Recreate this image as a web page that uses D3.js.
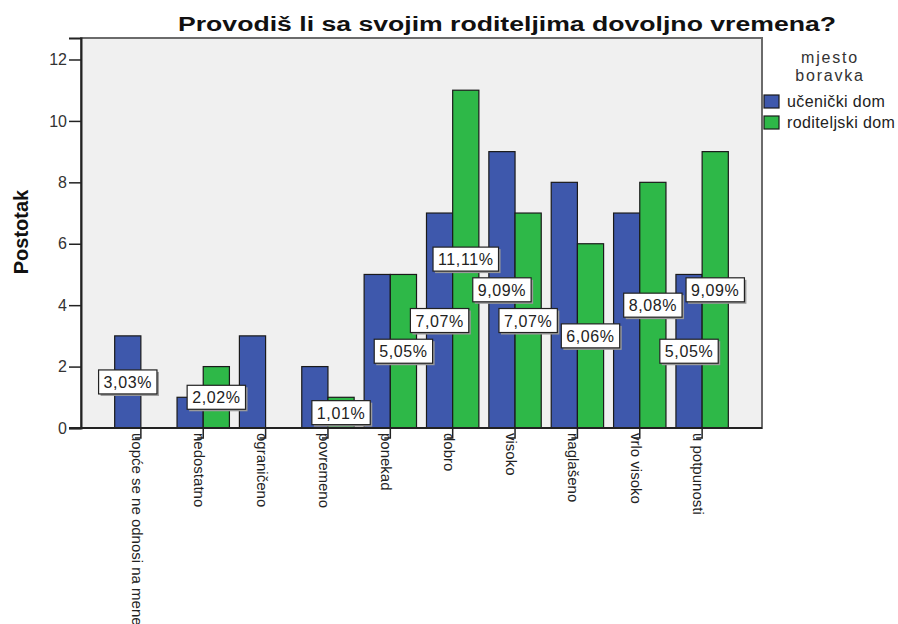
<!DOCTYPE html>
<html>
<head>
<meta charset="utf-8">
<script src="https://cdn.jsdelivr.net/npm/d3@7"></script>
<style>
  body { margin: 0; background: #fff; }
  text { font-family: Arial, "Liberation Sans", sans-serif; }
</style>
</head>
<body>
<svg id="chart" width="898" height="624"></svg>
<script>
(function () {

  // data
  var categories = ["uopće se ne odnosi na mene", "nedostatno", "ograničeno", "povremeno", "ponekad",
                    "dobro", "visoko", "naglašeno", "vrlo visoko", "u potpunosti"];
  var ucenickiDom = [3, 1, 3, 2, 5, 7, 9, 8, 7, 5];
  var roditeljskiDom = [0, 2, 0, 1, 5, 11, 7, 6, 8, 9];
  // labels that spss actually showed (the rest got hidden by overlap)
  var ucenickiLabels = ["3,03%", null, null, null, null, "7,07%", "9,09%", null, null, "5,05%"];
  var roditeljskiLabels = [null, "2,02%", null, "1,01%", "5,05%", "11,11%", "7,07%", "6,06%", "8,08%", "9,09%"];
  var yTicks = [0, 2, 4, 6, 8, 10, 12];
  var seriesNames = ["učenički dom", "roditeljski dom"];

  var blue = "#3e58ac";
  var green = "#2eb848";

  var svg = d3.select("#chart");

  var left = 81, right = 762, top = 38, bottom = 428;

  var x = d3.scaleBand()
    .domain(categories)
    .range([left, right])
    .paddingInner(0.16)
    .paddingOuter(0.54);

  var xs = d3.scaleBand()
    .domain([0, 1])
    .range([0, x.bandwidth()]);

  var y = d3.scaleLinear()
    .domain([0, 12.7])
    .range([bottom, top]);

  // plot background
  svg.append("rect")
    .attr("x", left)
    .attr("y", top)
    .attr("width", right - left)
    .attr("height", bottom - top)
    .attr("fill", "#f0f0f0")
    .attr("stroke", "#6b6b6b")
    .attr("stroke-width", 2);

  var rows = categories.map(function (c, i) {
    return { cat: c, vals: [ucenickiDom[i], roditeljskiDom[i]], labels: [ucenickiLabels[i], roditeljskiLabels[i]] };
  });

  var groups = svg.selectAll(".grp")
    .data(rows)
    .enter()
    .append("g")
      .attr("class", "grp")
      .attr("transform", function (d) { return "translate(" + x(d.cat) + ",0)"; });

  groups.selectAll("rect")
    .data(function (d) { return d.vals.map(function (v, k) { return { v: v, k: k }; }); })
    .enter()
    .filter(function (d) { return d.v > 0; })
    .append("rect")
      .attr("x", function (d) { return xs(d.k); })
      .attr("y", function (d) { return y(d.v); })
      .attr("width", xs.bandwidth())
      .attr("height", function (d) { return y(0) - y(d.v); })
      .attr("fill", function (d) { return d.k == 0 ? blue : green; })
      .attr("stroke", "#1a1a1a")
      .attr("stroke-width", 1.2);

  // left axis
  var yAxis = svg.append("g")
    .attr("transform", "translate(" + left + ",0)")
    .call(d3.axisLeft(y).tickValues(yTicks).tickSize(12).tickPadding(2));
  yAxis.select(".domain").attr("stroke", "#222").attr("stroke-width", 2);
  yAxis.selectAll(".tick line").attr("stroke", "#222").attr("stroke-width", 1.5);
  yAxis.selectAll(".tick text")
    .attr("font-size", "16px")
    .attr("fill", "#333")
    .style("font-family", "Arial, 'Liberation Sans', sans-serif");

  // bottom axis line
  svg.append("line")
    .attr("x1", left - 12)
    .attr("x2", right)
    .attr("y1", bottom)
    .attr("y2", bottom)
    .attr("stroke", "#222")
    .attr("stroke-width", 2);

  var xTicks = svg.selectAll(".xtick")
    .data(categories)
    .enter()
    .append("g")
      .attr("class", "xtick")
      .attr("transform", function (d) { return "translate(" + (x(d) + x.bandwidth() / 2) + "," + bottom + ")"; });

  xTicks.append("path")
    .attr("d", "M0,0V10H-6")
    .attr("fill", "none")
    .attr("stroke", "#222")
    .attr("stroke-width", 1.5);

  xTicks.append("text")
    .attr("transform", "translate(0,5) rotate(90)")
    .attr("x", 0)
    .attr("y", 9)
    .attr("font-size", "15px")
    .attr("fill", "#222")
    .text(function (d) { return d; });

  // value labels in boxes, sitting at half the bar height
  var labelData = [];
  rows.forEach(function (r) {
    r.labels.forEach(function (t, k) {
      if (t) labelData.push({ cat: r.cat, k: k, v: r.vals[k], text: t });
    });
  });

  var labels = svg.selectAll(".lbl")
    .data(labelData)
    .enter()
    .append("g")
      .attr("class", "lbl")
      .attr("transform", function (d) {
        return "translate(" + (x(d.cat) + xs(d.k) + xs.bandwidth() / 2) + "," + y(d.v / 2) + ")";
      });

  labels.each(function (d) {
    var g = d3.select(this);
    var shadow = g.append("rect");
    var box = g.append("rect");
    var t = g.append("text")
      .attr("text-anchor", "middle")
      .attr("y", 6)
      .attr("font-size", "16px")
      .attr("letter-spacing", "0.6px")
      .attr("fill", "#222")
      .text(d.text);
    var w = t.node().getComputedTextLength() + 10;
    shadow
      .attr("x", -w / 2 + 2)
      .attr("y", -12 + 2)
      .attr("width", w)
      .attr("height", 24)
      .attr("fill", "#9a9a9a");
    box
      .attr("x", -w / 2)
      .attr("y", -12)
      .attr("width", w)
      .attr("height", 24)
      .attr("fill", "#fff")
      .attr("stroke", "#222")
      .attr("stroke-width", 1.2);
  });

  // title
  svg.append("text")
    .attr("x", 178)
    .attr("y", 31)
    .attr("font-size", "20px")
    .attr("font-weight", "bold")
    .attr("fill", "#111")
    .attr("textLength", 658)
    .attr("lengthAdjust", "spacingAndGlyphs")
    .text("Provodiš li sa svojim roditeljima dovoljno vremena?");

  // y title
  svg.append("text")
    .attr("transform", "translate(28,232) rotate(-90)")
    .attr("text-anchor", "middle")
    .attr("font-size", "20px")
    .attr("font-weight", "bold")
    .attr("fill", "#111")
    .text("Postotak");

  // legend
  var legend = svg.append("g");
  legend.append("text")
    .attr("x", 830)
    .attr("y", 63)
    .attr("text-anchor", "middle")
    .attr("font-size", "16px")
    .attr("letter-spacing", "1.8px")
    .attr("fill", "#333")
    .text("mjesto");
  legend.append("text")
    .attr("x", 830)
    .attr("y", 81)
    .attr("text-anchor", "middle")
    .attr("font-size", "16px")
    .attr("letter-spacing", "1.8px")
    .attr("fill", "#333")
    .text("boravka");

  var items = legend.selectAll(".item")
    .data(seriesNames)
    .enter()
    .append("g")
      .attr("class", "item")
      .attr("transform", function (d, i) { return "translate(764," + (95 + i * 21) + ")"; });

  items.append("rect")
    .attr("width", 15)
    .attr("height", 13)
    .attr("fill", function (d, i) { return i == 0 ? blue : green; })
    .attr("stroke", "#1a1a1a")
    .attr("stroke-width", 1.2);

  items.append("text")
    .attr("x", 23)
    .attr("y", 12)
    .attr("font-size", "16px")
    .attr("letter-spacing", "0.4px")
    .attr("fill", "#222")
    .text(function (d) { return d; });

})();
</script>
</body>
</html>
